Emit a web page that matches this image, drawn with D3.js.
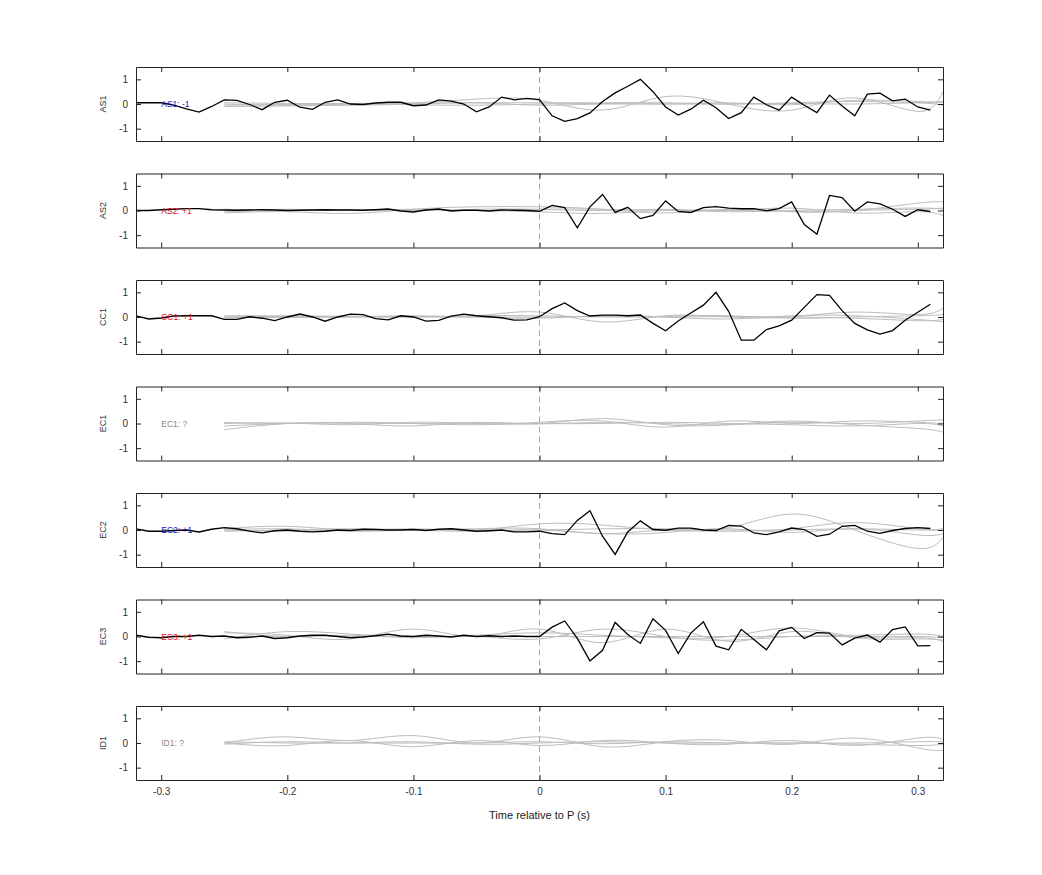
<!DOCTYPE html>
<html><head><meta charset="utf-8">
<script src="https://cdn.jsdelivr.net/npm/d3@7"></script>
<style>body{margin:0;background:#fff;font-family:"Liberation Sans",Arial,sans-serif}</style>
</head><body><svg id="c" width="1042" height="875"></svg>
<script>
const channels = ["AS1","AS2","CC1","EC1","EC2","EC3","ID1"];
const labels = ["AS1: -1","AS2: +1","CC1: +1","EC1: ?","EC2: +1","EC3: +1","ID1: ?"];
const labelColors = ["#1010c0","#e01010","#e01010","#888","#1010c0","#e01010","#888"];
const xTicks = [-0.3,-0.2,-0.1,0,0.1,0.2,0.3];
const yTicks = [-1,0,1];
const blackTimes = d3.range(64).map(i => +(-0.32 + i*0.01).toFixed(2));
const blackAS1 = [0.05,0.05,0.05,-0.05,-0.2,-0.33,-0.1,0.17,0.15,-0.02,-0.23,0.07,0.15,-0.13,-0.22,0.07,0.17,0,-0.02,0.04,0.07,0.07,-0.07,-0.04,0.17,0.12,0,-0.32,-0.12,0.28,0.17,0.23,0.18,
 -0.48,-0.7,-0.59,-0.36,0.1,0.45,0.72,1.0,0.5,-0.12,-0.45,-0.21,0.15,-0.15,-0.59,-0.35,0.28,-0.03,-0.25,0.28,-0.05,-0.35,0.36,-0.08,-0.48,0.4,0.44,0.13,0.2,-0.12,-0.25];
const blackAS2 = [0,0,0.03,0.05,0.08,0.08,0.03,0.02,0.01,0.02,0.03,0.02,0,0.01,0.02,0.03,0.02,0.02,0.01,0.03,0.06,-0.02,-0.06,0.02,0.06,-0.02,0.01,0.01,-0.02,0.02,0.01,0,-0.03,
 0.21,0.12,-0.7,0.15,0.65,-0.08,0.13,-0.33,-0.2,0.39,-0.04,-0.08,0.12,0.16,0.1,0.07,0.08,-0.01,0.08,0.35,-0.57,-0.96,0.61,0.52,-0.03,0.35,0.27,0.05,-0.24,0.03,-0.04];
const blackCC1 = [0.05,-0.08,-0.04,0.04,0.05,0.05,0.05,-0.1,-0.1,0.01,-0.05,-0.15,0,0.12,0,-0.17,0,0.12,0.1,-0.07,-0.12,0.05,0,-0.17,-0.14,0.04,0.12,0.05,0.01,-0.03,-0.13,-0.12,0.01,
 0.34,0.57,0.26,0.04,0.08,0.08,0.05,0.08,-0.26,-0.56,-0.16,0.16,0.48,1.0,0.23,-0.94,-0.94,-0.51,-0.36,-0.13,0.39,0.91,0.88,0.26,-0.26,-0.52,-0.69,-0.55,-0.13,0.19,0.52];
const blackEC2 = [0.05,-0.05,-0.05,-0.02,0,-0.08,0.03,0.1,0.05,-0.05,-0.12,-0.03,0,-0.05,-0.08,-0.05,0,-0.02,0.03,0.02,0,0,0.02,-0.02,0.03,0.05,0,-0.05,-0.03,0,-0.08,-0.08,-0.05,
 -0.15,-0.19,0.39,0.78,-0.25,-0.99,-0.08,0.37,0.02,-0.01,0.08,0.08,0,-0.02,0.19,0.16,-0.12,-0.19,-0.08,0.08,0.02,-0.26,-0.17,0.15,0.19,-0.05,-0.14,-0.02,0.06,0.1,0.06];
const blackEC3 = [0.05,-0.03,-0.05,0,0,0.05,0,0.02,-0.05,-0.03,0.02,-0.08,-0.05,0.02,0.05,0.05,0,-0.05,-0.02,0.03,0.1,0.02,0,0.05,0.02,-0.02,0.05,0,0.03,0,0.02,0,0,
 0.38,0.63,-0.08,-0.99,-0.56,0.57,0.08,-0.28,0.72,0.25,-0.69,0.14,0.6,-0.39,-0.54,0.29,-0.12,-0.54,0.23,0.37,-0.08,0.16,0.14,-0.34,-0.07,0.06,-0.23,0.28,0.39,-0.38,-0.37];
const blackSeries = [blackAS1, blackAS2, blackCC1, null, blackEC2, blackEC3, null];
const greyTimes = [-0.25,-0.2,-0.15,-0.1,-0.05,0,0.05,0.1,0.15,0.2,0.25,0.3,0.32];
const greyAS1 = [[0,-0.05,0,0.05,0.2,0.15,-0.25,0.3,0,-0.25,0.25,-0.3,0.5],[-0.05,-0.02,0,-0.03,-0.05,0,0.02,0,0,0.02,0,0.05,0.05],[0.05,0.02,0.02,0.03,0.05,0.05,0.05,0.05,0,0.05,0.1,0.05,-0.05],[-0.1,-0.08,-0.05,0,0.05,-0.05,0,0,0.05,-0.03,0.15,0.1,0.1]];
const greyAS2 = [[-0.1,-0.05,-0.12,0.05,0.15,0.15,0.05,-0.1,0.05,-0.05,0,0.3,0.35],[0.05,0.02,0.03,0,0.05,0.05,0,0.05,0,0.1,-0.1,-0.05,-0.2],[0,0.05,0.02,0.05,0,-0.05,-0.12,0,-0.05,0,0.05,0.1,0.05],[-0.05,0,0,0.03,0,0.05,0.05,0,0.02,-0.05,0,0.05,0.1]];
const greyCC1 = [[0,0.02,0,0.05,0.05,0.2,-0.2,0.05,0,0,0.2,0.1,0.35],[0.05,0.05,0.03,0.02,0,-0.05,0.05,0,-0.08,0.05,0.05,-0.1,-0.2],[-0.03,0,0.02,0,0.05,0.05,0,0.03,0.05,-0.05,0,0.05,0.1],[0,-0.02,0,0,0,0,0.02,0,0.02,0,-0.05,-0.15,-0.1]];
const greyEC1 = [[-0.25,0,0,-0.1,0.05,0,0.2,-0.05,-0.05,0.1,-0.05,-0.2,-0.35],[0.05,0,0.05,0,-0.05,0.05,0.1,-0.15,0.1,0,0.1,0.05,0],[0,0.02,-0.05,0.05,0,-0.02,0.05,0,-0.05,0.05,0,0.1,0.15],[-0.1,0,0.02,0,0.02,0,0,0.05,0,-0.05,-0.1,0,-0.1]];
const greyEC2 = [[0,0.05,-0.05,0,0.05,0.05,-0.15,0,0.1,0.65,0,-0.75,-0.3],[0.05,0.15,0,0.05,0,0.25,0.2,0,-0.05,0.05,0.3,0.05,0],[-0.05,0,0.05,0,-0.05,0,-0.15,-0.1,0.05,-0.1,0.05,-0.2,-0.15],[0,-0.05,0,0.02,0,0,0.05,0.05,0,0,0.05,0,0.05]];
const greyEC3 = [[0.15,0.05,-0.1,0.3,0,0.3,-0.25,0.3,-0.2,0.2,-0.05,-0.1,-0.15],[-0.1,0.2,0.1,0,0.05,0.15,0.05,-0.05,0,0.35,0,-0.05,-0.2],[0.2,0,0.05,-0.05,0,-0.1,0.3,0,-0.15,0,0.05,0.1,0],[0,0,0.02,0,0,0,0,0,0,0,0,0,-0.05]];
const greyID1 = [[0,0.25,0.1,0.3,0,0.25,-0.15,0.05,0.1,-0.05,0.2,-0.2,-0.3],[0,-0.1,0.1,-0.15,0.1,-0.1,0.1,0,-0.05,0.1,-0.1,0.2,0.15],[0.05,0,0,0.05,-0.05,0,0.05,0,0,0,-0.05,-0.1,-0.05],[-0.05,0.05,0,0,0,0.05,-0.03,0.05,0,0,0,0.05,0.05]];
const greySeries = [greyAS1, greyAS2, greyCC1, greyEC1, greyEC2, greyEC3, greyID1];

const svg = d3.select("#c");
const left = 136, right = 943, ph = 74, pitch = 106.5, top0 = 67;
const x = d3.scaleLinear().domain([-0.32,0.32]).range([left,right]);
const fmtX = v => v===0 ? "0" : d3.format(".1f")(v).replace("\u2212","-");
const fmtY = v => String(v);
channels.forEach((ch,i)=>{
  const t0 = top0 + i*pitch;
  const y = d3.scaleLinear().domain([-1.5,1.5]).range([t0+ph,t0]);
  const g = svg.append("g");
  const clipId = "clip"+i;
  g.append("clipPath").attr("id",clipId).append("rect").attr("x",left).attr("y",t0).attr("width",right-left).attr("height",ph);
  const pg = g.append("g").attr("clip-path",`url(#${clipId})`);
  const line = d3.line().x(d=>x(d[0])).y(d=>y(d[1]));
  greySeries[i].forEach(s=>{
    pg.append("path").attr("d", line.curve(d3.curveNatural)(greyTimes.map((t,k)=>[t,s[k]])))
      .attr("fill","none").attr("stroke","#bdbdbd").attr("stroke-width",1);
  });
  pg.append("line").attr("x1",x(0)).attr("x2",x(0)).attr("y1",t0).attr("y2",t0+ph)
    .attr("stroke","#ef8a8a").attr("stroke-dasharray","6,4").attr("stroke-width",1);
  if(blackSeries[i]){
    pg.append("path").attr("d", d3.line().x(d=>x(d[0])).y(d=>y(d[1]))(blackTimes.map((t,k)=>[t,blackSeries[i][k]])))
      .attr("fill","none").attr("stroke","#000").attr("stroke-width",1.3);
  }
  const bottomAx = d3.axisBottom(x).tickValues(xTicks).tickSizeInner(-5).tickSizeOuter(0).tickPadding(8).tickFormat(i===6?fmtX:"");
  const topAx = d3.axisTop(x).tickValues(xTicks).tickSizeInner(-5).tickSizeOuter(0).tickFormat("");
  const leftAx = d3.axisLeft(y).tickValues(yTicks).tickSizeInner(-5).tickSizeOuter(0).tickPadding(8).tickFormat(fmtY);
  const rightAx = d3.axisRight(y).tickValues(yTicks).tickSizeInner(-5).tickSizeOuter(0).tickFormat("");
  [[bottomAx,`translate(0,${t0+ph})`],[topAx,`translate(0,${t0})`],[leftAx,`translate(${left},0)`],[rightAx,`translate(${right},0)`]].forEach(([ax,tr])=>{
    const a = g.append("g").attr("transform",tr).call(ax);
    a.select(".domain").attr("stroke","#222");
    a.selectAll(".tick line").attr("stroke","#222");
    a.selectAll("text").attr("font-size",10).attr("fill","#333").attr("font-family","Liberation Sans, Arial, sans-serif");
  });
  g.append("text").attr("transform",`translate(106,${t0+ph/2}) rotate(-90)`).attr("text-anchor","middle")
    .attr("font-size",9).attr("fill","#333").text(ch);
  g.append("text").attr("x",x(-0.3)).attr("y",y(0)+3).attr("font-size",8.5).attr("fill",labelColors[i]).text(labels[i]);
});
svg.append("text").attr("x",(left+right)/2).attr("y",819).attr("text-anchor","middle").attr("font-size",11).attr("fill","#222").text("Time relative to P (s)");
</script></body></html>
